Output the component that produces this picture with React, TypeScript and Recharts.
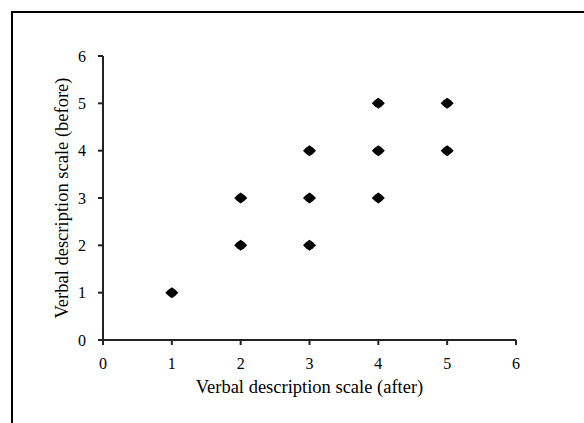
import React from 'react';
import { ScatterChart, Scatter, XAxis, YAxis, Label } from 'recharts';

const afterScores = [1, 2, 2, 3, 3, 3, 4, 4, 4, 5, 5];
const beforeScores = [1, 2, 3, 2, 3, 4, 3, 4, 5, 4, 5];
const axisTicks = [0, 1, 2, 3, 4, 5, 6];
const xTitle = 'Verbal description scale (after)';
const yTitle = 'Verbal description scale (before)';

const points = afterScores.map((a, i) => ({ after: a, before: beforeScores[i] }));

const FONT = '"Liberation Serif", "Times New Roman", serif';

const Marker = (props: any) => {
  const { cx, cy } = props;
  if (cx == null || cy == null) return null;
  const d = `M${cx},${cy - 5.5} L${cx + 3.5},${cy - 3} L${cx + 6.5},${cy} L${cx + 3.5},${cy + 3} L${cx},${cy + 5.5} L${cx - 3.5},${cy + 3} L${cx - 6.5},${cy} L${cx - 3.5},${cy - 3} Z`;
  return <path d={d} fill="#000" />;
};

const Tick = (props: any) => {
  const { x, y, payload, textAnchor, verticalAnchor } = props;
  const dy = verticalAnchor === 'start' ? '0.71em' : '0.355em';
  return (
    <text x={x} y={y} dy={dy} textAnchor={textAnchor} fontFamily={FONT} fontSize={16} fill="#000">
      {payload.value}
    </text>
  );
};

export default function App() {
  return (
    <div style={{ position: 'absolute', left: 0, top: 0, width: 584, height: 423, overflow: 'hidden', background: '#fff', fontFamily: FONT }}>
      <div style={{ position: 'absolute', left: 11, top: 11, width: 700, height: 600, border: '2px solid #000', boxSizing: 'border-box' }} />
      <div style={{ position: 'absolute', left: 0, top: 0 }}>
        <ScatterChart width={584} height={423} margin={{ top: 56, right: 68, bottom: 0, left: 0 }} style={{ fontFamily: FONT }}>
          <XAxis
            type="number"
            dataKey="after"
            domain={[0, 6]}
            ticks={axisTicks}
            interval={0}
            height={83}
            tickSize={5}
            tickMargin={13}
            stroke="#222"
            strokeWidth={2}
            tick={<Tick />}
            tickLine={{ stroke: '#222', strokeWidth: 2 }}
          >
            <Label value={xTitle} position="center" dy={5} style={{ fontFamily: FONT, fontSize: 18.5, fill: '#000' }} />
          </XAxis>
          <YAxis
            type="number"
            dataKey="before"
            domain={[0, 6]}
            ticks={axisTicks}
            interval={0}
            width={103}
            tickSize={5}
            tickMargin={12}
            stroke="#222"
            strokeWidth={2}
            tick={<Tick />}
            tickLine={{ stroke: '#222', strokeWidth: 2 }}
          >
            <Label value={yTitle} angle={-90} position="center" dx={9.5} style={{ fontFamily: FONT, fontSize: 18.5, fill: '#000', textAnchor: 'middle' }} />
          </YAxis>
          <Scatter data={points} shape={<Marker />} isAnimationActive={false} />
        </ScatterChart>
      </div>
    </div>
  );
}
